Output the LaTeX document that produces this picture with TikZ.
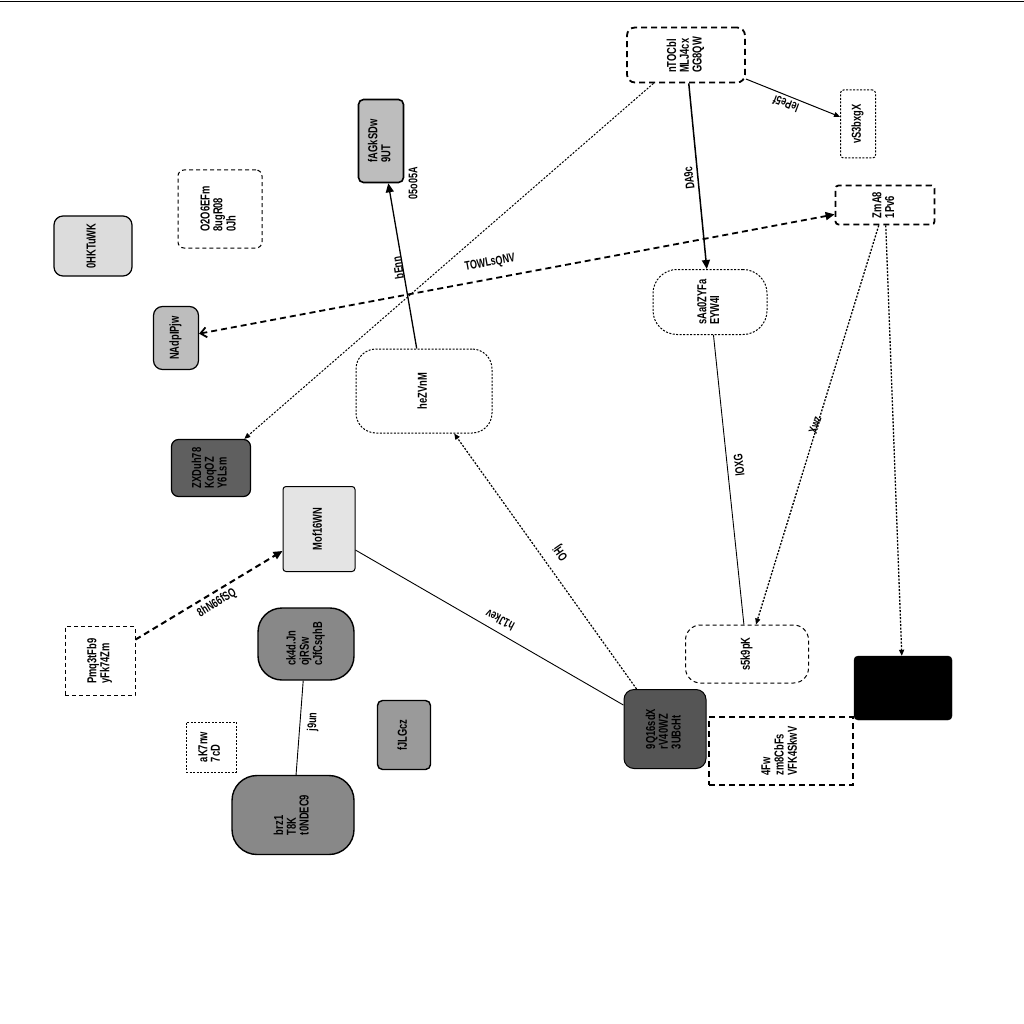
\documentclass[tikz,border=0pt]{standalone}
\usepackage{fontspec}
\setmainfont{Liberation Sans}
\newfontfamily\cf{Liberation Sans Bold}[FakeStretch=0.72]
\usetikzlibrary{arrows.meta}
\definecolor{gA}{HTML}{BDBDBD}
\definecolor{gB}{HTML}{DCDCDC}
\definecolor{gC}{HTML}{5F5F5F}
\definecolor{gD}{HTML}{E4E4E4}
\definecolor{gE}{HTML}{888888}
\definecolor{gF}{HTML}{9A9A9A}
\definecolor{gG}{HTML}{555555}
\newcommand{\vt}[1]{\rotatebox{90}{\begin{tabular}{@{}l@{}}#1\end{tabular}}}
\tikzset{
  bx/.style={draw, inner sep=0pt, font=\cf\fontsize{13}{12.5}\selectfont, align=left},
  solidb/.style={bx, line width=1.6pt},
  dashb/.style={bx, line width=1.8pt, dash pattern=on 6pt off 4pt},
  dashthin/.style={bx, line width=1pt, dash pattern=on 4pt off 3pt},
  dotb/.style={bx, line width=1pt, dash pattern=on 2pt off 1.5pt},
  elabel/.style={font=\cf\fontsize{12.5}{12}\selectfont, inner sep=1pt},
  tip/.style={-{Triangle[length=9pt,width=8pt]}},
  smalltip/.style={-{Triangle[length=6pt,width=5pt]}},
}
\begin{document}
\begin{tikzpicture}[x=1pt,y=-1pt]
\useasboundingbox (0,0) rectangle (1024,1024);
\draw[line width=0.8pt] (0,1) -- (1024,1);
% nodes
\node[dashb, rounded corners=8pt, minimum width=118pt, minimum height=55pt] (ntoc) at (686,55) {\vt{nTOCbl\\MLJ4cx\\GG8QW}};
\node[dotb, rounded corners=3pt, minimum width=35pt, minimum height=68pt] (vs3) at (858,124) {\vt{vS3bxgX}};
\node[solidb, fill=gA, rounded corners=5pt, minimum width=45pt, minimum height=83pt] (fa6) at (381,141) {\vt{fAGkSDw\\9UT}};
\node[dashthin, rounded corners=6pt, minimum width=84pt, minimum height=78pt] (o2o) at (220,209) {\vt{O2O6EFm\\8ugR08\\0Jh}};
\node[bx, line width=1.2pt, fill=gB, rounded corners=9pt, minimum width=78pt, minimum height=60pt] (ohk) at (93,246) {\vt{0HKTuWK}};
\node[bx, line width=1.2pt, fill=gA, rounded corners=9pt, minimum width=45pt, minimum height=63pt] (nad) at (176,338) {\vt{NAdpIPjw}};
\node[dashb, rounded corners=3pt, minimum width=99pt, minimum height=39pt] (zma) at (885,205) {\vt{ZmA8\\1Pv6}};
\node[dotb, rounded corners=24pt, minimum width=114pt, minimum height=65pt] (saa) at (710,302) {\vt{sAa0ZYFa\\EYW4I}};
\node[dotb, rounded corners=20pt, minimum width=136pt, minimum height=84pt] (hez) at (424,391) {\vt{heZVnM}};
\node[solidb, line width=1.2pt, fill=gC, rounded corners=7pt, minimum width=79pt, minimum height=57pt] (zxd) at (211,468) {\vt{ZXDuh78\\KoqOZ\\Y6Lsm}};
\node[bx, line width=1pt, fill=gD, rounded corners=3pt, minimum width=72pt, minimum height=85pt] (mof) at (319,529) {\vt{Mof16WN}};
\node[dashthin, minimum width=70pt, minimum height=69pt] (pmq) at (100,661) {\vt{Pmq3tFb9\\yFk74Zm}};
\node[solidb, line width=1.4pt, fill=gE, rounded corners=24pt, minimum width=96pt, minimum height=72pt] (ck4) at (306,644) {\vt{ck4d.Jn\\ojRSw\\cJfCsqhB}};
\node[dotb, minimum width=50pt, minimum height=50pt] (ak7) at (211,747) {\vt{aK7nw\\7cD}};
\node[solidb, line width=1.4pt, fill=gF, rounded corners=5pt, minimum width=53pt, minimum height=69pt] (fjl) at (404,735) {\vt{fJLGcz}};
\node[solidb, line width=1.4pt, fill=gE, rounded corners=25pt, minimum width=122pt, minimum height=79pt] (brz) at (293,815) {\vt{brz1\\T8K\\t0NDEC9}};
\node[dashthin, rounded corners=15pt, minimum width=123pt, minimum height=58pt] (s5k) at (747,654) {\vt{s5k9pK}};
\node[solidb, line width=1pt, fill=gG, rounded corners=10pt, minimum width=82pt, minimum height=79pt] (q16) at (665,729) {\vt{9Q16sdX\\rV40WZ\\3UBcHt}};
\node[dashb, minimum width=144pt, minimum height=68pt] (fw) at (781,751) {\vt{4Fw\\zm8CbFs\\VFK4SkwV}};
\node[bx, fill=black, rounded corners=4pt, minimum width=98pt, minimum height=64pt] (blk) at (903,688) {};
% edges
\draw[line width=1pt, dash pattern=on 2pt off 1.5pt, smalltip] (ntoc) -- (zxd);
\node[elabel, rotate=90] (l1) at (413,183) {05o05A};
\draw[line width=1.5pt, tip] (ntoc) -- (saa);
\node[elabel, rotate=96.5] (l2) at (689,178) {DA9c};
\draw[line width=1pt, smalltip] (ntoc) -- (vs3);
\node[elabel, rotate=159.5] (l3) at (786,104) {lePe5f};
\draw[line width=1.8pt, dash pattern=on 6pt off 4pt, {Straight Barb[length=6pt,width=10pt]}-{Triangle[length=9pt,width=8pt]}] (nad) -- (zma);
\node[elabel, rotate=10.3] (l4) at (490,263) {TOWLsQNV};
\draw[line width=1.3pt, dash pattern=on 2pt off 1.5pt, smalltip] (zma) -- (s5k);
\node[elabel, rotate=73] (l5) at (815,425) {Xwz};
\draw[line width=1.3pt, dash pattern=on 2pt off 1.5pt, smalltip] (zma) -- (blk);
\draw[line width=0.9pt] (saa) -- (s5k);
\node[elabel, rotate=96.4] (l6) at (739,465) {lOXG};
\draw[line width=1.3pt, tip] (hez) -- (fa6);
\node[elabel, rotate=99] (l7) at (398,268) {bEnn};
\draw[line width=1.2pt, dash pattern=on 2pt off 1.5pt, smalltip] (q16) -- (hez);
\node[elabel, rotate=125] (l8) at (561,553) {OHj};
\draw[line width=0.9pt] (q16) -- (mof);
\node[elabel, rotate=152.4] (l9) at (500,620) {h1Jkev};
\draw[line width=2pt, dash pattern=on 6pt off 4pt, tip] (pmq) -- (mof);
\node[elabel, rotate=31.6] (l10) at (217,603) {8hN66fSQ};
\draw[line width=0.9pt] (ck4) -- (brz);
\node[elabel, rotate=88] (l11) at (313,722) {j9un};
\end{tikzpicture}
\end{document}
